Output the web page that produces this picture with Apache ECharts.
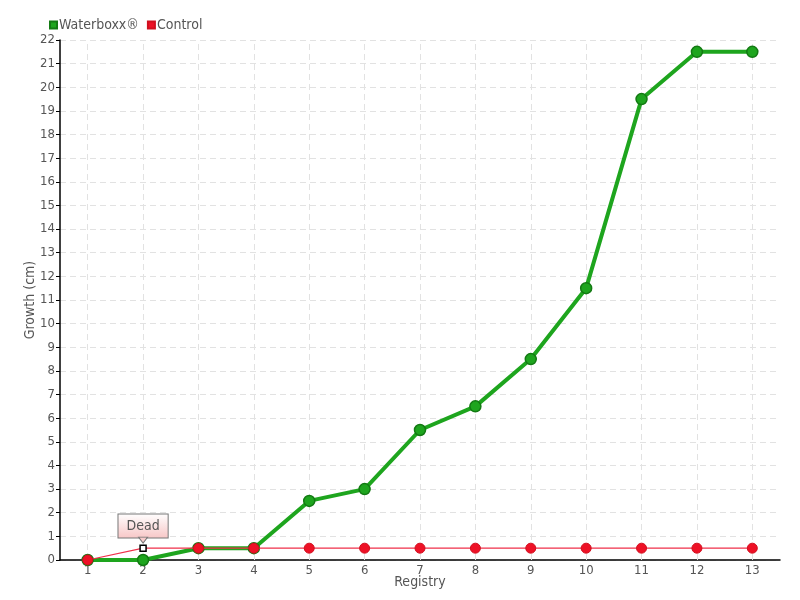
<!DOCTYPE html>
<html><head><meta charset="utf-8">
<script src="https://cdn.jsdelivr.net/npm/echarts@6/dist/echarts.min.js"></script>
<style>html,body{margin:0;padding:0;background:#fff}#c{width:800px;height:600px}</style>
</head><body><div id="c"></div>
<script>
const categories = ['1','2','3','4','5','6','7','8','9','10','11','12','13'];
const waterboxx = [0,0,0.5,0.5,2.5,3,5.5,6.5,8.5,11.5,19.5,21.5,21.5];
const control = [0,0.5,0.5,0.5,0.5,0.5,0.5,0.5,0.5,0.5,0.5,0.5,0.5];
const deadIndex = 1;
const deadLabel = 'Dead';

const font = '"DejaVu Sans Condensed", "DejaVu Sans", sans-serif';
const chart = echarts.init(document.getElementById('c'));
const controlData = control.map((v, i) => i === deadIndex ? {
  value: v,
  symbol: 'rect', symbolSize: 6,
  itemStyle: {color: '#fff', borderColor: '#000', borderWidth: 1.5},
  label: {
    show: true, position: 'top', distance: 7, formatter: deadLabel,
    color: '#555', fontSize: 14, fontFamily: font,
    padding: [5, 8, 4, 8], borderColor: '#777', borderWidth: 1,
    backgroundColor: {type: 'linear', x: 0, y: 0, x2: 0, y2: 1,
      colorStops: [{offset: 0, color: '#fff'}, {offset: 1, color: '#f7c6c6'}]}
  }
} : v);
chart.setOption({
  animation: false,
  textStyle: {fontFamily: font},
  legend: {
    left: 44, top: 13, itemWidth: 7, itemHeight: 7, itemGap: 8,
    icon: 'rect',
    textStyle: {color: '#555', fontSize: 14, fontFamily: font, padding: [0,0,0,-3]},
    data: ['Waterboxx®', 'Control']
  },
  grid: {left: 60, right: 20, top: 40, bottom: 40},
  xAxis: {
    type: 'category', data: categories, boundaryGap: true,
    name: 'Registry', nameLocation: 'middle', nameGap: 15, nameMoveOverlap: false,
    nameTextStyle: {color: '#555', fontSize: 14, fontFamily: font},
    axisLine: {lineStyle: {color: '#000', width: 1.5}},
    axisTick: {alignWithLabel: true, length: 5, lineStyle: {color: '#333'}},
    axisLabel: {color: '#555', fontSize: 13, fontFamily: font, margin: 4},
    splitLine: {show: false}
  },
  yAxis: {
    type: 'value', min: 0, max: 22, interval: 1,
    name: 'Growth (cm)', nameLocation: 'middle', nameGap: 23, nameMoveOverlap: false,
    nameTextStyle: {color: '#555', fontSize: 14, fontFamily: font},
    axisLine: {show: true, lineStyle: {color: '#000', width: 1.5}},
    axisTick: {show: true, length: 4, lineStyle: {color: '#000'}},
    axisLabel: {color: '#555', fontSize: 13, fontFamily: font, margin: 5},
    splitLine: {show: true, lineStyle: {color: '#e2e2e2', type: [6, 4]}}
  },
  series: [
    {
      name: 'Waterboxx®', type: 'line', data: waterboxx,
      symbol: 'circle', symbolSize: 11, z: 2,
      lineStyle: {color: '#1ea51e', width: 4},
      itemStyle: {color: '#1ea51e', borderColor: '#137a13', borderWidth: 1.5},
      markLine: {
        silent: true, symbol: 'none', z: 1, label: {show: false},
        lineStyle: {color: '#e2e2e2', type: [6, 4], width: 1},
        data: categories.map(c => ({xAxis: c}))
      }
    },
    {
      name: 'Control', type: 'line', data: controlData,
      symbol: 'circle', symbolSize: 10, z: 3,
      lineStyle: {color: '#f0304a', width: 1.2},
      itemStyle: {color: '#ee1126', borderColor: '#d0101f', borderWidth: 1},
      markPoint: {
        silent: true, z: 10,
        data: [{
          coord: [categories[deadIndex], control[deadIndex]],
          symbol: 'triangle', symbolRotate: 180, symbolSize: [9, 6], symbolOffset: [0, -8],
          itemStyle: {color: '#f8cccc', borderColor: '#777', borderWidth: 1},
          label: {show: false}
        }]
      }
    }
  ]
});
</script></body></html>
